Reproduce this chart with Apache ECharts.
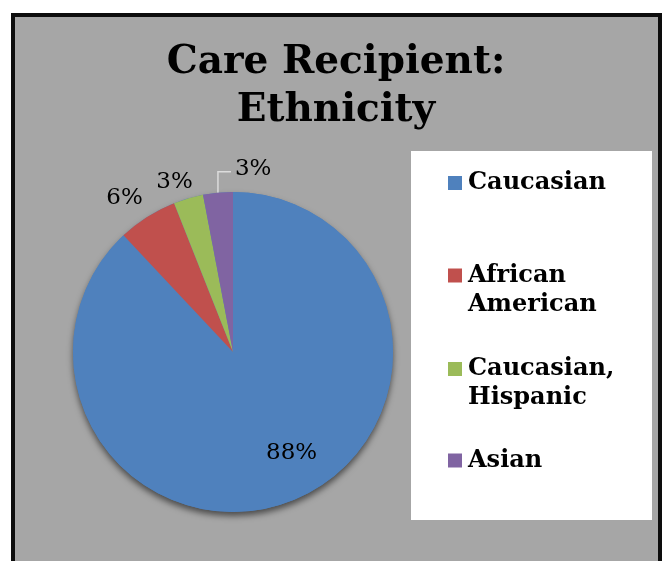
<!DOCTYPE html>
<html>
<head>
<meta charset="utf-8">
<script src="https://cdn.jsdelivr.net/npm/echarts@6/dist/echarts.min.js"></script>
<style>
  html, body { margin: 0; padding: 0; background: #ffffff; overflow: hidden; }
  #frame {
    position: absolute; left: 11px; top: 13px;
    width: 643px; height: 600px;
    border: 4px solid #0d0d0d; border-bottom: none;
    background: #a6a6a6;
  }
  #chart { position: absolute; left: 0; top: 0; width: 663px; height: 561px; }
</style>
</head>
<body>
<div id="frame"></div>
<div id="chart"></div>
<script>
// Ethnicity of care recipients, share of respondents (%)
const categories = ['Caucasian', 'African American', 'Caucasian, Hispanic', 'Asian'];
// Two-line entries get a blank leading line so their first line sits level with the swatch
const legendLabels = ['Caucasian', '\nAfrican\nAmerican', '\nCaucasian,\nHispanic', 'Asian'];
const shares = [88, 6, 3, 3];
const colors = ['#4f81bd', '#c0504d', '#9bbb59', '#8064a2'];

const serif = 'DejaVu Serif';

// Vertical room around each legend entry
const legendTextPadding = [
  [28, 0, 28, 1],
  [6.5, 0, 6.5, 1],
  [0, 0, 0, 1],
  [33.5, 0, 33.5, 1]
];

const total = shares.reduce((a, b) => a + b, 0);

const chart = echarts.init(document.getElementById('chart'), null, { renderer: 'canvas' });

chart.setOption({
  backgroundColor: 'transparent',
  animation: false,
  title: {
    text: 'Care Recipient:\nEthnicity',
    left: 336,
    textAlign: 'center',
    top: 39,
    padding: 0,
    textStyle: {
      fontFamily: serif,
      fontWeight: 'bold',
      fontSize: 39,
      lineHeight: 48,
      color: '#000000'
    }
  },
  // white legend panel
  graphic: [{
    type: 'rect',
    left: 411,
    top: 151,
    z: 0,
    silent: true,
    shape: { width: 241, height: 369 },
    style: { fill: '#ffffff' }
  }],
  legend: {
    orient: 'vertical',
    left: 448,
    top: 140.5,
    padding: 0,
    itemGap: 0,
    itemWidth: 14,
    itemHeight: 14,
    icon: 'rect',
    selectedMode: false,
    z: 5,
    formatter: name => legendLabels[categories.indexOf(name)],
    textStyle: {
      fontFamily: serif,
      fontWeight: 'bold',
      fontSize: 24,
      lineHeight: 29,
      color: '#000000'
    },
    data: categories.map((name, i) => ({
      name: name,
      textStyle: { padding: legendTextPadding[i] }
    }))
  },
  series: [
    {
      // soft drop shadow under the whole pie
      type: 'pie',
      silent: true,
      center: [233, 352],
      radius: 160,
      z: 1,
      label: { show: false },
      labelLine: { show: false },
      itemStyle: {
        color: colors[0],
        shadowBlur: 6,
        shadowOffsetY: 4,
        shadowColor: 'rgba(0,0,0,0.55)'
      },
      data: [{ name: 'total', value: total }]
    },
    {
      type: 'pie',
      z: 2,
      center: [233, 352],
      radius: 160,
      startAngle: 90,
      clockwise: true,
      avoidLabelOverlap: false,
      color: colors,
      itemStyle: { borderWidth: 0 },
      label: {
        show: true,
        position: 'outside',
        formatter: '{c}%',
        fontFamily: serif,
        fontSize: 23,
        color: '#000000'
      },
      labelLine: {
        show: true,
        length: 15,
        length2: 10,
        smooth: false,
        lineStyle: { color: '#dcdcdc', width: 1.5 }
      },
      data: categories.map((name, i) => {
        const item = { name: name, value: shares[i] };
        if (i === 0) {
          item.label = { position: 'inside' };
          item.labelLine = { show: false };
        } else if (i < 3) {
          item.labelLine = { show: true, lineStyle: { opacity: 0 } };
        }
        return item;
      }),
      labelLayout: function (p) {
        const r = p.labelRect;
        if (p.dataIndex === 0) {
          return {
            x: r.x + r.width / 2 + 28,
            y: r.y + r.height / 2 + 24,
            align: 'center',
            verticalAlign: 'middle'
          };
        }
        const p0 = p.labelLinePoints && p.labelLinePoints[0];
        if (!p0) return {};
        if (p.dataIndex === 1) {
          return { x: p0[0] - 4.5, y: p0[1] - 19, align: 'right', verticalAlign: 'middle' };
        }
        if (p.dataIndex === 2) {
          return { x: p0[0] + 4.5, y: p0[1] - 16, align: 'right', verticalAlign: 'middle' };
        }
        // leader line goes straight up from the slice, then right to the label
        return {
          x: p0[0] + 17,
          y: p0[1] - 24,
          align: 'left',
          verticalAlign: 'middle',
          labelLinePoints: [
            [p0[0], p0[1]],
            [p0[0], p0[1] - 21],
            [p0[0] + 13, p0[1] - 21]
          ]
        };
      }
    }
  ]
});
</script>
</body>
</html>
